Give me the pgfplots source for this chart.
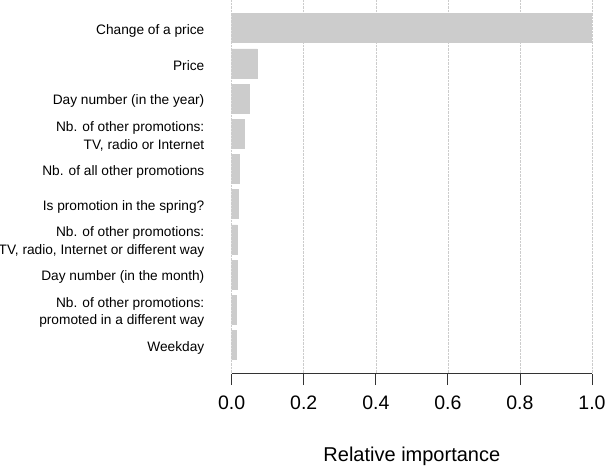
\documentclass[border=0pt]{standalone}
\usepackage{fontspec}
\setmainfont{Liberation Sans}
\usepackage{pgfplots}
\pgfplotsset{compat=1.18}
\usetikzlibrary{calc}
\begin{document}
\begin{tikzpicture}
\begin{axis}[
    name=ax,
    scale only axis,
    width=360.3pt, height=373.5pt,
    xbar, bar width=29pt,
    xmin=0, xmax=1,
    ymin=0.2, ymax=10.81,
    y dir=reverse,
    axis x line*=bottom,
    axis y line*=left,
    y axis line style={draw=none},
    x axis line style={draw=black!80, line width=0.8pt, -},
    xtick={0,0.2,0.4,0.6,0.8,1},
    xticklabels={0.0,0.2,0.4,0.6,0.8,1.0},
    xtick style={draw=black!80, line width=0.8pt},
    tick align=outside,
    major tick length=11.5pt,
    xticklabel style={font=\fontsize{19.5}{22}\selectfont, anchor=base, inner sep=0pt, yshift=-24pt},
    xmajorgrids,
    grid style={densely dotted, black!20, line width=0.6pt},
    ytick={1,...,10},
    ytick style={draw=none},
    yticklabels={
      {Change of a price},
      {Price},
      {Day number (in the year)},
      {Nb. of other promotions:\\TV, radio or Internet},
      {Nb. of all other promotions},
      {Is promotion in the spring?},
      {Nb. of other promotions:\\TV, radio, Internet or different way},
      {Day number (in the month)},
      {Nb. of other promotions:\\promoted in a different way},
      {Weekday}},
    yticklabel style={font=\fontsize{13.7}{17.3}\selectfont, align=right, inner sep=0pt, xshift=-15.7pt, yshift=-2.5pt},
    xlabel={Relative importance},
    xlabel style={at={(axis description cs:0.5,0)}, anchor=base, inner sep=0pt, yshift=-87.5pt, font=\fontsize{20}{24}\selectfont},
  ]
  \addplot[fill=black!20, draw=black!20] coordinates {
    (1.0,1) (0.071,2) (0.048,3) (0.034,4) (0.021,5)
    (0.018,6) (0.0157,7) (0.0155,8) (0.013,9) (0.012,10)
  };
\end{axis}
\pgfresetboundingbox
\path (ax.south west) ++(-231.7pt,-92.5pt) rectangle ($(ax.north east)+(16pt,0)$);
\end{tikzpicture}
\end{document}
